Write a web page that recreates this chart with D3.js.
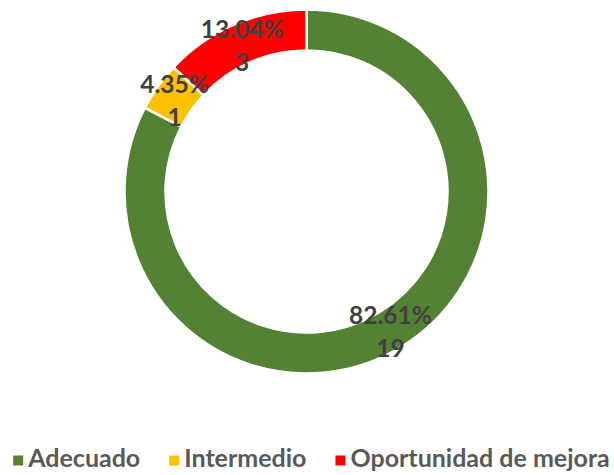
<!DOCTYPE html>
<html>
<head>
<meta charset="utf-8">
<script src="https://cdn.jsdelivr.net/npm/d3@7"></script>
<style>
  body { margin: 0; background: #fff; }
  svg { display: block; font-family: Lato, "Open Sans", sans-serif; font-weight: bold; }
</style>
</head>
<body>
<svg id="chart" width="614" height="475"></svg>
<script>
// Chart data
var categories = ["Adecuado", "Intermedio", "Oportunidad de mejora"];
var counts = [19, 1, 3];
var percents = ["82.61%", "4.35%", "13.04%"];
var colors = ["#548235", "#FFC000", "#FF0000"];

var svg = d3.select("#chart"),
    width = +svg.attr("width"),
    height = +svg.attr("height");

var cx = 306.5, cy = 191.5,
    outerR = 182, innerR = 141;

var data = categories.map(function(c, i) {
  return { name: c, value: counts[i], pct: percents[i], color: colors[i] };
});

var pie = d3.pie().sort(null).value(function(d) { return d.value; });
var arc = d3.arc().innerRadius(innerR).outerRadius(outerR);

var g = svg.append("g").attr("transform", "translate(" + cx + "," + cy + ")");

var slices = pie(data);

g.selectAll("path")
  .data(slices)
  .enter().append("path")
    .attr("d", arc)
    .attr("fill", function(d) { return d.data.color; })
    .attr("stroke", "#fff")
    .attr("stroke-width", 2.5);

// Labels at ring centroid, percent over count
var labels = g.selectAll("text.lbl")
  .data(slices)
  .enter().append("text")
    .attr("class", "lbl")
    .attr("transform", function(d) { return "translate(" + arc.centroid(d) + ")"; })
    .attr("text-anchor", "middle")
    .attr("fill", "#404040")
    .style("font-size", "24.5px");

labels.append("tspan")
  .attr("x", 0).attr("y", -5)
  .text(function(d) { return d.data.pct; });
labels.append("tspan")
  .attr("x", 0).attr("y", 27.5)
  .text(function(d) { return d.data.value; });

// Legend
var legend = svg.append("g").attr("class", "legend");
var x = 0;
data.forEach(function(d, i) {
  var item = legend.append("g").attr("transform", "translate(" + x + ",0)");
  item.append("rect")
    .attr("x", 0).attr("y", -11)
    .attr("width", 10).attr("height", 10)
    .attr("fill", d.color);
  var t = item.append("text")
    .attr("x", 15).attr("y", 0)
    .attr("fill", "#595959")
    .style("font-size", "25px")
    .text(d.name);
  x += 15 + t.node().getComputedTextLength() + 29;
});
var legendW = x - 29;
legend.attr("transform", "translate(" + (311.5 - legendW / 2) + ",466.5)");
</script>
</body>
</html>
